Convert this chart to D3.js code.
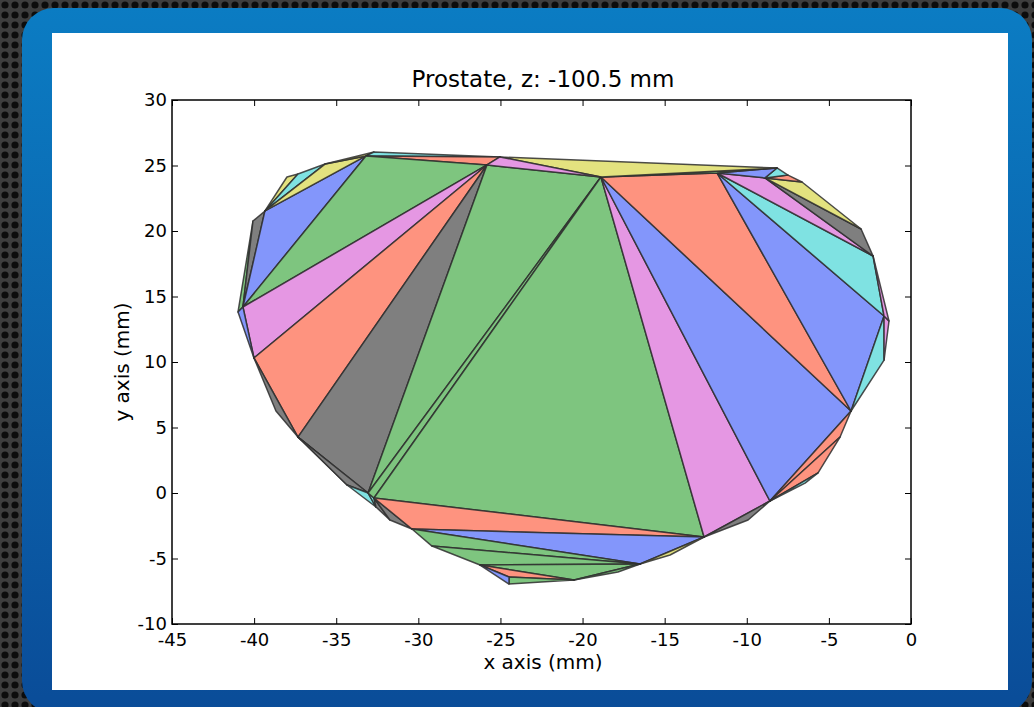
<!DOCTYPE html>
<html>
<head>
<meta charset="utf-8">
<script src="https://cdn.jsdelivr.net/npm/d3@7"></script>
<style>
  html, body { margin: 0; padding: 0; background: #333; }
  svg { display: block; }
  text { font-family: "DejaVu Sans", sans-serif; fill: #000; }
</style>
</head>
<body>
<svg id="chart" width="1034" height="707"></svg>
<script>
// contour vertices (mm)
const vx = [-40.98, -40.68, -40.07, -39.34, -38.00, -37.33, -35.68, -33.19, -32.70, -25.03,
  -25.82, -18.88, -11.81, -8.16, -8.89, -7.49, -6.64, -3.04, -2.31, -1.64,
  -1.34, -1.64, -3.65, -4.32, -5.66, -6.45, -8.59, -9.92, -12.60, -14.67,
  -16.50, -17.84, -20.52, -24.48, -24.48, -26.24, -29.17, -30.39, -31.73, -32.58,
  -32.70, -33.06, -34.34, -35.38, -36.54, -37.33, -38.67, -40.01]
const vy = [13.82, 14.20, 20.76, 21.53, 24.12, 24.35, 25.11, 25.73, 26.03, 25.65,
  25.04, 24.12, 24.43, 24.81, 24.05, 24.27, 23.74, 20.15, 18.09, 13.51,
  13.13, 10.15, 6.26, 4.27, 1.53, 0.76, -0.61, -2.06, -3.36, -4.73,
  -5.42, -6.03, -6.64, -6.95, -6.41, -5.50, -4.05, -2.75, -2.06, -1.07,
  -0.38, 0.00, 0.61, 2.29, 3.44, 4.27, 6.26, 10.31]

// triangles (vertex indices) and their colour codes
const triangles = [
  [1, 2, 0], [1, 2, 3], [1, 3, 7], [3, 4, 5], [3, 5, 6], [3, 6, 7], [6, 8, 7],
  [7, 8, 9], [7, 9, 10], [7, 10, 1], [10, 1, 47], [0, 1, 47], [10, 47, 45],
  [47, 46, 45], [10, 45, 41], [45, 44, 43], [45, 43, 42], [45, 42, 41],
  [42, 39, 41], [41, 39, 40], [40, 39, 38], [40, 38, 37], [10, 41, 11],
  [11, 41, 40], [11, 40, 28], [40, 37, 28], [37, 28, 30], [28, 29, 30],
  [37, 36, 30], [36, 35, 30], [35, 30, 32], [30, 31, 32], [35, 32, 34],
  [34, 32, 33], [35, 34, 33],
  [11, 28, 26], [28, 27, 26], [11, 26, 22], [26, 22, 23], [26, 23, 24],
  [26, 24, 25], [11, 22, 12], [12, 22, 19], [19, 21, 22], [19, 20, 21],
  [12, 19, 18], [18, 20, 19], [12, 18, 14], [14, 18, 17], [14, 17, 16],
  [14, 16, 15], [14, 15, 13], [12, 14, 13], [11, 12, 13], [9, 13, 11], [10, 9, 11]
]
const triColors = [
  'g', 'k', 'b', 'y', 'c', 'y', 'y',
  'c', 'r', 'g', 'm', 'b', 'r',
  'k', 'k', 'y', 'k', 'k',
  'c', 'c', 'k', 'k', 'g',
  'g', 'g', 'r', 'b', 'y',
  'g', 'g', 'g', 'g', 'r',
  'g', 'b',
  'm', 'k', 'b', 'r', 'r',
  'c', 'r', 'b', 'c', 'm',
  'c', 'm', 'm', 'k', 'y',
  'r', 'c', 'b', 'g', 'y', 'm'
]

const xTicks = [-45, -40, -35, -30, -25, -20, -15, -10, -5, 0]
const yTicks = [-10, -5, 0, 5, 10, 15, 20, 25, 30]
const title = 'Prostate, z: -100.5 mm'
const xLabel = 'x axis (mm)'
const yLabel = 'y axis (mm)'

const palette = {
  b: '#8396fb', g: '#7ec57f', r: '#fe937f', c: '#7fe2e2',
  m: '#e597e3', y: '#e3e27f', k: '#7f7f7f'
}

const svg = d3.select('#chart')
const defs = svg.append('defs')

// perforated metal backdrop
const holes = defs.append('pattern')
  .attr('id', 'holes').attr('patternUnits', 'userSpaceOnUse')
  .attr('width', 10).attr('height', 10)
holes.append('rect').attr('width', 10).attr('height', 10).attr('fill', '#3e3e3e')
holes.append('circle').attr('cx', 5).attr('cy', 5).attr('r', 3.6).attr('fill', '#0c0c0c')

const blue = defs.append('linearGradient')
  .attr('id', 'blue').attr('x1', 0).attr('y1', 0).attr('x2', 0).attr('y2', 1)
blue.append('stop').attr('offset', '0%').attr('stop-color', '#0b7cc3')
blue.append('stop').attr('offset', '100%').attr('stop-color', '#0a4c98')

svg.append('rect').attr('width', 1034).attr('height', 707).attr('fill', 'url(#holes)')
svg.append('rect')
  .attr('x', 22).attr('y', 8).attr('width', 1010).attr('height', 705)
  .attr('rx', 32).attr('fill', 'url(#blue)')
svg.append('rect')
  .attr('x', 52).attr('y', 33).attr('width', 956).attr('height', 657)
  .attr('fill', '#fff')

const x = d3.scaleLinear().domain([-45, 0]).range([172, 911])
const y = d3.scaleLinear().domain([-10, 30]).range([624, 100])

// triangles
svg.append('g')
  .selectAll('path')
  .data(triangles)
  .join('path')
  .attr('d', t => 'M' + t.map(i => x(vx[i]) + ',' + y(vy[i])).join('L') + 'Z')
  .attr('fill', (t, i) => palette[triColors[i]])
  .attr('stroke', '#2e2e2e')
  .attr('stroke-opacity', 0.85)
  .attr('stroke-width', 1.5)
  .attr('stroke-linejoin', 'round')

// axes, ticks pointing inward like matplotlib
const fmt = d => String(d)
const axes = [
  svg.append('g').attr('transform', 'translate(0,624)')
    .call(d3.axisBottom(x).tickValues(xTicks).tickFormat(fmt).tickSizeInner(-6).tickSizeOuter(0).tickPadding(9)),
  svg.append('g').attr('transform', 'translate(0,100)')
    .call(d3.axisTop(x).tickValues(xTicks).tickFormat('').tickSizeInner(-6).tickSizeOuter(0)),
  svg.append('g').attr('transform', 'translate(172,0)')
    .call(d3.axisLeft(y).tickValues(yTicks).tickFormat(fmt).tickSizeInner(-6).tickSizeOuter(0).tickPadding(5)),
  svg.append('g').attr('transform', 'translate(911,0)')
    .call(d3.axisRight(y).tickValues(yTicks).tickFormat('').tickSizeInner(-6).tickSizeOuter(0))
]
axes.forEach(a => {
  a.select('.domain').remove()
  a.selectAll('line').attr('stroke', '#000')
  a.selectAll('text').attr('font-size', 18).attr('font-family', '"DejaVu Sans", sans-serif')
})

svg.append('rect')
  .attr('x', 172).attr('y', 100).attr('width', 739).attr('height', 524)
  .attr('fill', 'none').attr('stroke', '#000').attr('stroke-width', 1.5)

svg.append('text')
  .attr('x', 543).attr('y', 87).attr('text-anchor', 'middle')
  .attr('font-size', 23).text(title)

svg.append('text')
  .attr('x', 543).attr('y', 669).attr('text-anchor', 'middle')
  .attr('font-size', 20).text(xLabel)

svg.append('text')
  .attr('transform', 'translate(129,362) rotate(-90)')
  .attr('text-anchor', 'middle')
  .attr('font-size', 20).text(yLabel)
</script>
</body>
</html>
